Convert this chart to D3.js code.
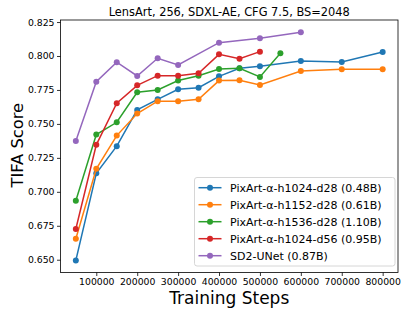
<!DOCTYPE html>
<html><head><meta charset="utf-8">
<script src="https://cdn.jsdelivr.net/npm/d3@7"></script>
<style>body{margin:0;background:#fff}svg{display:block}text{font-family:"DejaVu Sans",sans-serif}</style>
</head><body>
<script>
const title = "LensArt, 256, SDXL-AE, CFG 7.5, BS=2048";
const xLabel = "Training Steps";
const yLabel = "TIFA Score";
const yTicks = [0.650, 0.675, 0.700, 0.725, 0.750, 0.775, 0.800, 0.825];
const xTicks = [100000, 200000, 300000, 400000, 500000, 600000, 700000, 800000];
const seriesNames = ["PixArt-α-h1024-d28 (0.48B)", "PixArt-α-h1152-d28 (0.61B)", "PixArt-α-h1536-d28 (1.10B)", "PixArt-α-h1024-d56 (0.95B)", "SD2-UNet (0.87B)"];
const colors = ["#1f77b4", "#ff7f0e", "#2ca02c", "#d62728", "#9467bd"];
const stepsA = [50000,100000,150000,200000,250000,300000,350000,400000,450000,500000,600000,700000,800000];
const stepsG = [50000,100000,150000,200000,250000,300000,350000,400000,450000,500000,550000];
const stepsR = [50000,100000,150000,200000,250000,300000,350000,400000,450000,500000];
const stepsP = [50000,100000,150000,200000,250000,300000,400000,500000,600000];
const blue   = [0.6495,0.7137,0.7336,0.7603,0.7681,0.7755,0.7767,0.7850,0.7910,0.7924,0.7963,0.7956,0.8029];
const orange = [0.6654,0.7169,0.7414,0.7576,0.7667,0.7667,0.7681,0.7819,0.7821,0.7787,0.7890,0.7902,0.7902];
const green  = [0.6934,0.7422,0.7512,0.7733,0.7750,0.7819,0.7855,0.7904,0.7910,0.7846,0.8020];
const red    = [0.6726,0.7346,0.7652,0.7784,0.7855,0.7855,0.7873,0.8012,0.7980,0.8032];
const purple = [0.7375,0.7811,0.7954,0.7853,0.7983,0.7934,0.8098,0.8130,0.8174];

const series = [
  {name: seriesNames[0], color: colors[0], xs: stepsA, ys: blue},
  {name: seriesNames[1], color: colors[1], xs: stepsA, ys: orange},
  {name: seriesNames[2], color: colors[2], xs: stepsG, ys: green},
  {name: seriesNames[3], color: colors[3], xs: stepsR, ys: red},
  {name: seriesNames[4], color: colors[4], xs: stepsP, ys: purple}
];

const W = 407, H = 315;
const m = {left: 60.5, right: 9, top: 20, bottom: 42.5};
const svg = d3.select("body").append("svg").attr("width", W).attr("height", H);
const x = d3.scaleLinear().domain([12500, 837500]).range([m.left, W - m.right]);
const y = d3.scaleLinear().domain([0.6406, 0.8265]).range([H - m.bottom, m.top]);

const gx = svg.append("g").attr("transform", `translate(0,${H - m.bottom})`)
  .call(d3.axisBottom(x).tickValues(xTicks).tickFormat(d3.format("d")).tickSize(3.5).tickSizeOuter(0));
const gy = svg.append("g").attr("transform", `translate(${m.left},0)`)
  .call(d3.axisLeft(y).tickValues(yTicks).tickFormat(d3.format(".3f")).tickSize(3.5).tickSizeOuter(0));
[gx, gy].forEach(g => {
  g.select(".domain").remove();
  g.selectAll("line").attr("stroke", "#000").attr("stroke-width", 0.8);
  g.selectAll("text").attr("font-size", 9.3).attr("fill", "#000").attr("font-family", "DejaVu Sans");
});
gx.selectAll("text").attr("dy", "0.71em").attr("y", 5.5);
gy.selectAll("text").attr("x", -6);

const line = d3.line().x(d => x(d[0])).y(d => y(d[1]));
series.forEach(s => {
  const pts = s.xs.map((v, i) => [v, s.ys[i]]);
  svg.append("path").datum(pts).attr("d", line).attr("fill", "none")
    .attr("stroke", s.color).attr("stroke-width", 1.5);
  svg.append("g").selectAll("circle").data(pts).join("circle")
    .attr("cx", d => x(d[0])).attr("cy", d => y(d[1])).attr("r", 3).attr("fill", s.color);
});

svg.append("rect").attr("x", m.left).attr("y", m.top)
  .attr("width", W - m.right - m.left).attr("height", H - m.bottom - m.top)
  .attr("fill", "none").attr("stroke", "#000").attr("stroke-width", 0.8);

svg.append("text").attr("x", (m.left + W - m.right) / 2).attr("y", 15.7)
  .attr("text-anchor", "middle").attr("font-size", 11.4).text(title);
svg.append("text").attr("x", (m.left + W - m.right) / 2).attr("y", 304)
  .attr("text-anchor", "middle").attr("font-size", 17).text(xLabel);
svg.append("text").attr("transform", `translate(22.5,${(m.top + H - m.bottom) / 2 - 1}) rotate(-90)`)
  .attr("text-anchor", "middle").attr("font-size", 16.3).text(yLabel);

// legend
const lg = svg.append("g");
lg.append("rect").attr("x", 194.5).attr("y", 177.5).attr("width", 200.5).attr("height", 88.5)
  .attr("rx", 2.5).attr("fill", "#fff").attr("fill-opacity", 0.8).attr("stroke", "#ccc").attr("stroke-width", 0.8);
series.forEach((s, i) => {
  const yy = 187.7 + i * 17;
  lg.append("line").attr("x1", 198.5).attr("x2", 221.5).attr("y1", yy).attr("y2", yy)
    .attr("stroke", s.color).attr("stroke-width", 1.5);
  lg.append("circle").attr("cx", 210).attr("cy", yy).attr("r", 3).attr("fill", s.color);
  lg.append("text").attr("x", 230).attr("y", yy).attr("dy", "0.35em").attr("font-size", 11).text(s.name);
});
</script>
</body></html>
